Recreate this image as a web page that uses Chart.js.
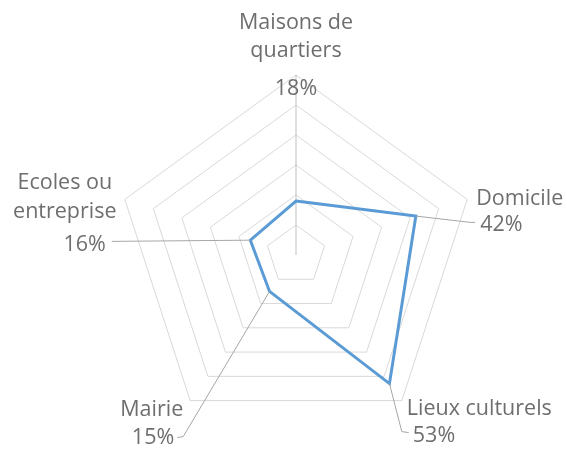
<!DOCTYPE html>
<html>
<head>
<meta charset="utf-8">
<script src="https://cdn.jsdelivr.net/npm/chart.js@4.4.1/dist/chart.umd.min.js"></script>
<style>
    html, body { margin: 0; padding: 0; background: #ffffff; }
    #wrap { width: 567px; height: 450px; }
</style>
</head>
<body>
<div id="wrap"><canvas id="radar-chart" width="567" height="450"></canvas></div>
<script>
    // values (percent)
    const categories = ["Maisons de quartiers", "Domicile", "Lieux culturels", "Mairie", "Ecoles ou entreprise"];
    const categoryLines = [["Maisons de", "quartiers"], ["Domicile"], ["Lieux culturels"], ["Mairie"], ["Ecoles ou", "entreprise"]];
    const values = [18, 42, 53, 15, 16];
    const scaleMax = 60;
    const scaleStep = 10;

    // label placement, offsets from the outer vertex of each spoke
    const labelLayout = [
        { lines: [[0, -46, "center"], [0, -18, "center"]], value: [0, 20, "center"], leader: [] },
        { lines: [[9, 6, "left"]], value: [13, 32, "left"], leader: [[3, 23], [8, 23]] },
        { lines: [[5, 14, "left"]], value: [11, 41, "left"], leader: [[0, 31], [7, 32]] },
        { lines: [[-7, 15, "right"]], value: [-16, 43, "right"], leader: [[-7, 36], [-13, 37]] },
        { lines: [[-60, -10, "center"], [-60, 19, "center"]], value: [-19, 52, "right"], leader: [[-13, 42]] }
    ];

    const textColor = "#6e6e6e";
    const font = "21.5px 'Open Sans'";

    const dataLabels = {
        id: "dataLabels",
        afterDatasetsDraw(chart) {
            const ctx = chart.ctx;
            const scale = chart.scales.r;
            ctx.save();
            labelLayout.forEach((layout, i) => {
                const v = scale.getPointPosition(i, scale.drawingArea);
                const p = scale.getPointPosition(i, scale.getDistanceFromCenterForValue(values[i]));
                if (layout.leader.length) {
                    ctx.beginPath();
                    ctx.strokeStyle = "#a6a6a6";
                    ctx.lineWidth = 1;
                    ctx.moveTo(p.x, p.y);
                    layout.leader.forEach(([dx, dy]) => ctx.lineTo(v.x + dx, v.y + dy));
                    ctx.stroke();
                }
                ctx.fillStyle = textColor;
                ctx.font = font;
                ctx.textBaseline = "alphabetic";
                categoryLines[i].forEach((line, j) => {
                    const [dx, dy, align] = layout.lines[j];
                    ctx.textAlign = align;
                    ctx.fillText(line, v.x + dx, v.y + dy);
                });
                const [dx, dy, align] = layout.value;
                ctx.textAlign = align;
                ctx.fillText(`${values[i]}%`, v.x + dx, v.y + dy);
            });
            ctx.restore();
        }
    };

    new Chart(document.getElementById("radar-chart"), {
        type: "radar",
        data: {
            labels: categories,
            datasets: [{
                label: "Lieux",
                data: values,
                borderColor: "#5b9bd5",
                borderWidth: 3,
                backgroundColor: "transparent",
                fill: false,
                pointRadius: 0,
                pointHoverRadius: 0
            }]
        },
        options: {
            animation: false,
            responsive: false,
            layout: {
                padding: { left: 116, top: 75, right: 91, bottom: 15 }
            },
            scales: {
                r: {
                    min: 0,
                    max: scaleMax,
                    ticks: { display: false, stepSize: scaleStep },
                    pointLabels: { display: false },
                    grid: { color: "#d9d9d9", lineWidth: 1 },
                    angleLines: {
                        color: (c) => c.index === 0 ? "#bfbfbf" : "rgba(0,0,0,0)",
                        lineWidth: 1
                    }
                }
            },
            plugins: {
                legend: { display: false },
                tooltip: { enabled: false }
            }
        },
        plugins: [dataLabels]
    });
</script>
</body>
</html>
